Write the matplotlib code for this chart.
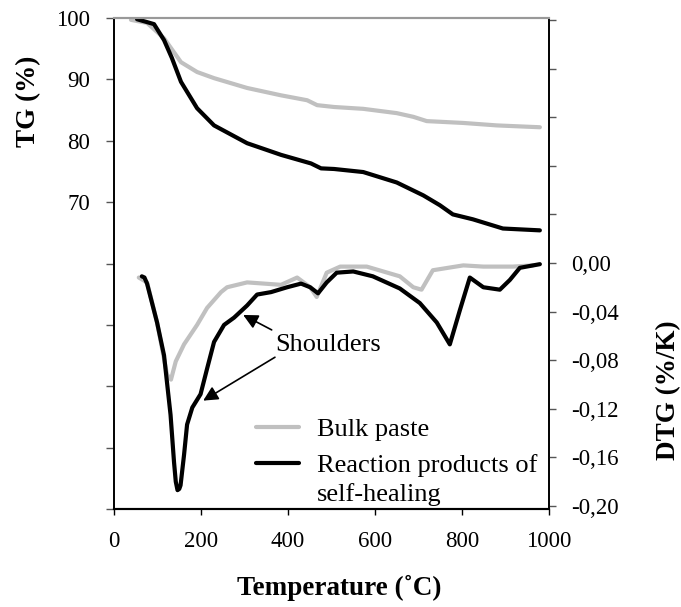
import numpy as np
import matplotlib.pyplot as plt

plt.rcParams['font.family'] = ['Liberation Serif', 'DejaVu Serif']

# TG curves (temperature in C, mass in %)
tg_bulk_t = [39, 76, 115, 154, 191, 230, 306, 384, 444, 467, 506, 573, 650, 688, 719, 803, 880, 979]
tg_bulk = [99.7, 99.2, 96.7, 92.8, 91.2, 90.2, 88.6, 87.4, 86.6, 85.8, 85.5, 85.2, 84.5, 83.9,
           83.2, 82.9, 82.5, 82.2]

tg_heal_t = [53, 92, 115, 133, 154, 191, 230, 306, 384, 453, 476, 506, 573, 650, 711, 749, 779,
             825, 894, 979]
tg_heal = [99.8, 99.0, 96.4, 93.5, 89.6, 85.3, 82.5, 79.6, 77.7, 76.3, 75.5, 75.4, 74.9, 73.2,
           71.1, 69.5, 68.0, 67.2, 65.7, 65.4]

# DTG curves (%/K)
dtg_bulk_t = [57, 76, 99, 122, 131, 142, 161, 191, 214, 246, 260, 306, 384, 421, 451, 466, 489,
              520, 581, 657, 688, 707, 733, 803, 849, 917, 963]
dtg_bulk = [-0.012, -0.016, -0.049, -0.092, -0.096, -0.081, -0.067, -0.051, -0.037, -0.024,
            -0.020, -0.016, -0.018, -0.012, -0.020, -0.028, -0.008, -0.003, -0.003, -0.011,
            -0.020, -0.022, -0.006, -0.002, -0.003, -0.003, -0.002]

dtg_heal_t = [64, 70, 76, 99, 115, 130, 138, 142, 146, 150, 153, 161, 168, 180, 199, 214, 230,
              253, 276, 306, 329, 361, 398, 430, 451, 469, 489, 512, 550, 595, 657, 703, 742,
              772, 795, 818, 849, 887, 910, 933, 979]
dtg_heal = [-0.011, -0.012, -0.017, -0.049, -0.076, -0.125, -0.164, -0.180, -0.187, -0.186,
            -0.183, -0.158, -0.133, -0.119, -0.108, -0.087, -0.065, -0.051, -0.045, -0.035,
            -0.026, -0.024, -0.020, -0.017, -0.020, -0.025, -0.016, -0.008, -0.007, -0.011,
            -0.021, -0.033, -0.049, -0.067, -0.039, -0.012, -0.020, -0.022, -0.014, -0.004,
            -0.001]

tg_ticks = [20, 30, 40, 50, 60, 70, 80, 90, 100]
tg_labels = ['', '', '', '', '', '70', '80', '90', '100']
dtg_ticks = [-0.20, -0.16, -0.12, -0.08, -0.04, 0.00, 0.04, 0.08, 0.12, 0.16, 0.20]
dtg_labels = ['-0,20', '-0,16', '-0,12', '-0,08', '-0,04', '0,00', '', '', '', '', '']
t_ticks = [0, 200, 400, 600, 800, 1000]

grey = '#c0c0c0'

fig = plt.figure(figsize=(6.81, 6.07), dpi=100)
ax = fig.add_axes([114 / 681, 1 - 509 / 607, 435 / 681, 491 / 607])
ax2 = ax.twinx()

style = dict(lw=3, solid_capstyle='round', solid_joinstyle='round')
ax.plot(tg_bulk_t, tg_bulk, color=grey, **style)
ax.plot(tg_heal_t, tg_heal, color='black', **style)
l1, = ax2.plot(dtg_bulk_t, dtg_bulk, color=grey, **style)
l2, = ax2.plot(dtg_heal_t, dtg_heal, color='black', **style)

ax.set_xlim(0, 1000)
ax.set_ylim(20, 100)
ax2.set_ylim(-0.2025, 0.2016)

ax.set_xticks(t_ticks)
ax.set_xticklabels([str(t) for t in t_ticks])
ax.set_yticks(tg_ticks)
ax.set_yticklabels(tg_labels)
ax2.set_yticks(dtg_ticks)
ax2.set_yticklabels(dtg_labels)

ax.tick_params(axis='x', length=4, width=1, pad=12, labelsize=16.5, direction='out')
ax.tick_params(axis='y', length=6, width=1, pad=11, labelsize=16.5, direction='out', color='#555555')
ax2.tick_params(axis='y', length=5, width=1, pad=11, labelsize=16.5, direction='out', color='#555555')

for a in (ax, ax2):
    a.spines['top'].set_color('#999999')
    a.spines['top'].set_linewidth(1.5)
    a.spines['left'].set_linewidth(1.2)
    a.spines['right'].set_linewidth(1.2)
    a.spines['bottom'].set_linewidth(1.5)

# annotations
ax2.text(370, -0.0724, 'Shoulders', fontsize=19, ha='left', va='baseline')
arrow = dict(arrowstyle='-|>', color='black', lw=1.2, mutation_scale=22, shrinkA=0, shrinkB=0)
ax2.annotate('', xy=(297, -0.0428), xytext=(362.5, -0.0551), arrowprops=arrow)
ax2.annotate('', xy=(205, -0.1133), xytext=(370, -0.0776), arrowprops=arrow)

leg = ax2.legend([l1, l2], ['Bulk paste', 'Reaction products of'], loc='upper left',
                 bbox_to_anchor=(0.326, 0.1853), frameon=False, fontsize=19, borderpad=0,
                 borderaxespad=0, handlelength=1.62, handletextpad=0.68, labelspacing=0.45)
ax2.text(0.467, 0.0285, 'self-healing', transform=ax2.transAxes, fontsize=19,
         ha='left', va='center')

fig.text(29 / 681, 1 - 101 / 607, 'TG (%)', rotation=90, fontsize=19.5, fontweight='bold',
         ha='center', va='center')
fig.text(669 / 681, 1 - 390 / 607, 'DTG (%/K)', rotation=90, fontsize=19.5, fontweight='bold',
         ha='center', va='center')
fig.text(339 / 681, 1 - 588 / 607, 'Temperature (˚C)', fontsize=19.5, fontweight='bold',
         ha='center', va='center')

fig.savefig('out.png', dpi=100)
